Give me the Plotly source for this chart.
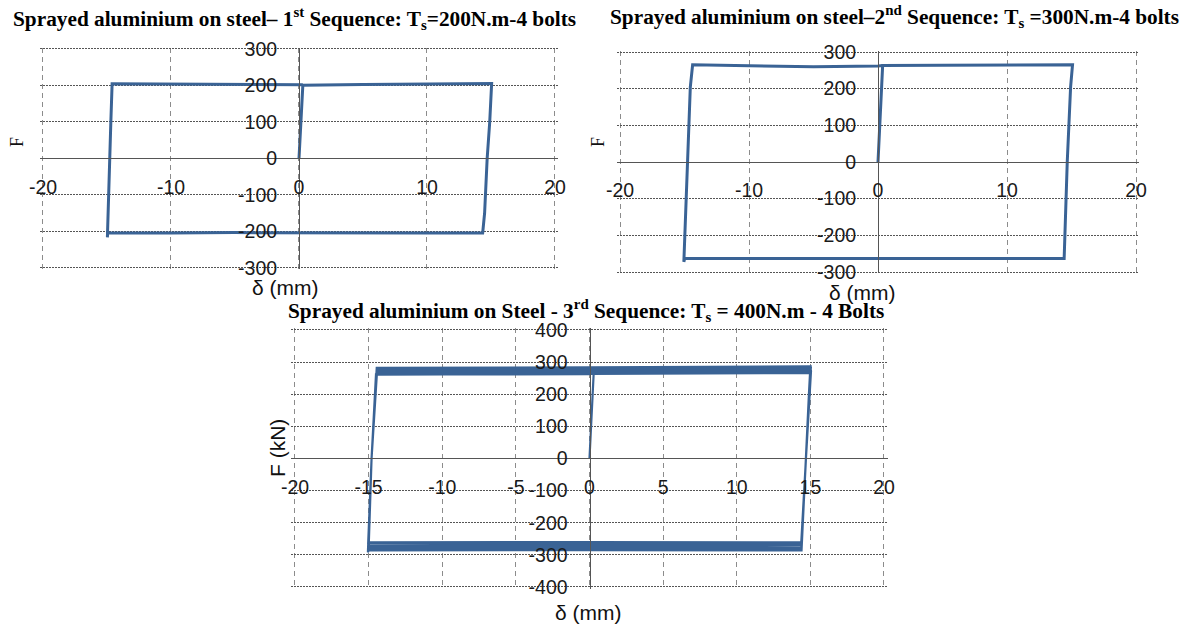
import plotly.graph_objects as go

# ---------------- data ----------------
# Sequence 1 (Ts = 200 N.m)
delta_1 = [0.0, 0.3, 5.0, 10.0, 15.05, 14.9, 14.7, 14.5, 14.35, 10.0, 5.0, 0.0, -5.0, -10.0, -14.95, -14.97,
           -14.85, -14.7, -14.6, -10.0, -5.0, 0.0, 0.3]
force_1 = [0.0, 201.0, 203.0, 204.0, 205.5, 100.0, 0.0, -150.0, -204.0, -204.0, -203.0, -203.0, -203.0, -204.0,
           -204.0, -216.0, -100.0, 100.0, 205.0, 204.0, 203.0, 203.0, 202.0]

# Sequence 2 (Ts = 300 N.m)
delta_2 = [0.0, 0.36, 5.0, 10.0, 15.08, 14.93, 14.67, 14.43, 10.0, 5.0, 0.0, -5.0, -10.0, -14.99, -15.05,
           -14.76, -14.55, -14.37, -10.0, -5.0, 0.0, 0.36]
force_2 = [0.0, 263.0, 264.0, 265.0, 265.5, 204.0, 0.0, -263.5, -263.5, -263.5, -263.5, -263.5, -263.5,
           -263.5, -272.5, 0.0, 204.0, 265.0, 262.0, 260.0, 262.0, 263.0]

# Sequence 3 (Ts = 400 N.m, several cycles)
delta_3 = [0.0, 0.3, 7.0, 15.0, 14.9, 14.7, 14.4, 0.0, -15.0, -15.05, -14.8, -14.55, -14.45,
           0.0, 15.02, 14.7, 14.38, 0.0, -15.0, -14.8, -14.45,
           0.0, 15.03, 14.7, 14.4, 0.0, -15.02, -14.8, -14.43,
           0.0, 15.0, 14.7, 14.37, 0.0, -15.0, -14.8, -14.45,
           0.0, 15.04, 14.7, 14.4, 0.0, -15.03, -14.8, -14.45,
           0.0, 15.0, 14.7, 14.4, 0.0, -15.0, -14.8, -14.5, 0.0]
force_3 = [0.0, 280.0, 283.0, 286.0, 200.0, 0.0, -286.0, -285.0, -286.0, -292.0, 0.0, 200.0, 282.0,
           284.0, 287.0, 0.0, -283.0, -281.0, -282.0, 0.0, 276.0,
           278.0, 281.0, 0.0, -277.0, -275.0, -276.0, 0.0, 270.0,
           272.0, 275.0, 0.0, -270.0, -268.0, -270.0, 0.0, 264.0,
           266.0, 270.0, 0.0, -264.0, -262.0, -263.0, 0.0, 261.0,
           263.0, 266.0, 0.0, -261.0, -260.0, -261.0, 0.0, 262.0, 262.0]

x_ticks = [-20, -10, 0, 10, 20]
x_ticks_3 = [-20, -15, -10, -5, 0, 5, 10, 15, 20]
y_ticks_12 = [-300, -200, -100, 0, 100, 200, 300]
y_ticks_3 = [-400, -300, -200, -100, 0, 100, 200, 300, 400]

titles = [
    "Sprayed aluminium on steel– 1<sup>st</sup> Sequence: T<sub>s</sub>=200N.m-4 bolts",
    "Sprayed aluminium on steel–2<sup>nd</sup> Sequence: T<sub>s</sub> =300N.m-4 bolts",
    "Sprayed aluminium on Steel - 3<sup>rd</sup> Sequence: T<sub>s</sub> = 400N.m - 4 Bolts",
]
x_title = "δ (mm)"
y_titles = ["F", "F", "F (kN)"]

# ---------------- figure ----------------
W, H = 1192, 626
LINE = "#3A6395"
fig = go.Figure()
fig.add_trace(go.Scatter(x=delta_1, y=force_1, mode="lines", line=dict(color=LINE, width=3),
                         xaxis="x", yaxis="y", showlegend=False))
fig.add_trace(go.Scatter(x=delta_2, y=force_2, mode="lines", line=dict(color=LINE, width=3),
                         xaxis="x2", yaxis="y2", showlegend=False))
fig.add_trace(go.Scatter(x=delta_3, y=force_3, mode="lines", line=dict(color=LINE, width=2.2),
                         xaxis="x3", yaxis="y3", showlegend=False))

tick_font = dict(family="Liberation Sans, Arial, sans-serif", size=19.5, color="#1a1a1a")


def lab(v):
    return [str(t) for t in v]  # plain hyphen-minus like the reference


def xax(px0, px1, lo, hi, ypos_px, ticks):
    pad = (hi - lo) * 0.006
    s = (px1 - px0) / (hi - lo)
    d0 = (px0 - pad * s) / W
    d1 = (px1 + pad * s) / W
    return dict(domain=[d0, d1], anchor="free", position=1 - ypos_px / H, range=[lo - pad, hi + pad],
                tickvals=ticks, ticktext=lab(ticks),
                showgrid=True, gridcolor="#8c8c8c", griddash="5px,4px", gridwidth=1,
                zeroline=False, showline=True, linecolor="#555555", linewidth=1,
                ticks="", tickfont=tick_font, ticklabelstandoff=11, automargin=False, fixedrange=True)


def yax(px0, px1, lo, hi, xpos_px, ticks):
    # px0 = pixel of lo (bottom), px1 = pixel of hi (top)
    pad = (hi - lo) * 0.006
    s = (px0 - px1) / (hi - lo)
    d0 = 1 - (px0 + pad * s) / H
    d1 = 1 - (px1 - pad * s) / H
    return dict(domain=[d0, d1], anchor="free", position=xpos_px / W, range=[lo - pad, hi + pad],
                tickvals=ticks, ticktext=lab(ticks),
                showgrid=True, gridcolor="#555555", griddash="2px,1px", gridwidth=1,
                zeroline=False, showline=True, linecolor="#555555", linewidth=1,
                ticks="", tickfont=tick_font, ticklabelstandoff=18, automargin=False, fixedrange=True)


fig.update_layout(
    template="none",
    width=W, height=H,
    margin=dict(l=0, r=0, t=0, b=0, pad=0, autoexpand=False),
    paper_bgcolor="white", plot_bgcolor="white",
    showlegend=False,
    xaxis=xax(43, 555, -20, 20, 158.3, x_ticks),
    yaxis=yax(268, 49, -300, 300, 299, y_ticks_12),
    xaxis2=xax(620, 1136, -20, 20, 161.7, x_ticks),
    yaxis2=yax(272, 52, -300, 300, 878, y_ticks_12),
    xaxis3=xax(295, 884, -20, 20, 458.3, x_ticks_3),
    yaxis3=yax(587, 330, -400, 400, 589.5, y_ticks_3),
)

title_font = dict(family="Liberation Serif, Times New Roman, serif", size=21.3, color="#000000")
label_font = dict(family="Liberation Sans, Arial, sans-serif", size=21, color="#111111")

ann = []
for txt, (x, y) in zip(titles, [(294, 18), (894.5, 17), (586, 310)]):
    ann.append(dict(text="<b>" + txt + "</b>", x=x / W, y=1 - y / H, xref="paper", yref="paper",
                    xanchor="center", yanchor="middle", showarrow=False, font=title_font))
for (x, y) in [(285, 287), (862, 292), (588, 612)]:
    ann.append(dict(text=x_title, x=x / W, y=1 - y / H, xref="paper", yref="paper",
                    xanchor="center", yanchor="middle", showarrow=False, font=label_font))
yt_fonts = [dict(family="Liberation Serif, serif", size=18, color="#111111"),
            dict(family="Liberation Serif, serif", size=18, color="#111111"),
            label_font]
for txt, f, (x, y) in zip(y_titles, yt_fonts, [(17, 142), (598, 142), (277, 448)]):
    ann.append(dict(text=txt, x=x / W, y=1 - y / H, xref="paper", yref="paper", textangle=-90,
                    xanchor="center", yanchor="middle", showarrow=False, font=f))
fig.update_layout(annotations=ann)

fig.write_html("out.html", config={"displayModeBar": False},
               post_script="document.body.style.margin='0px';")
